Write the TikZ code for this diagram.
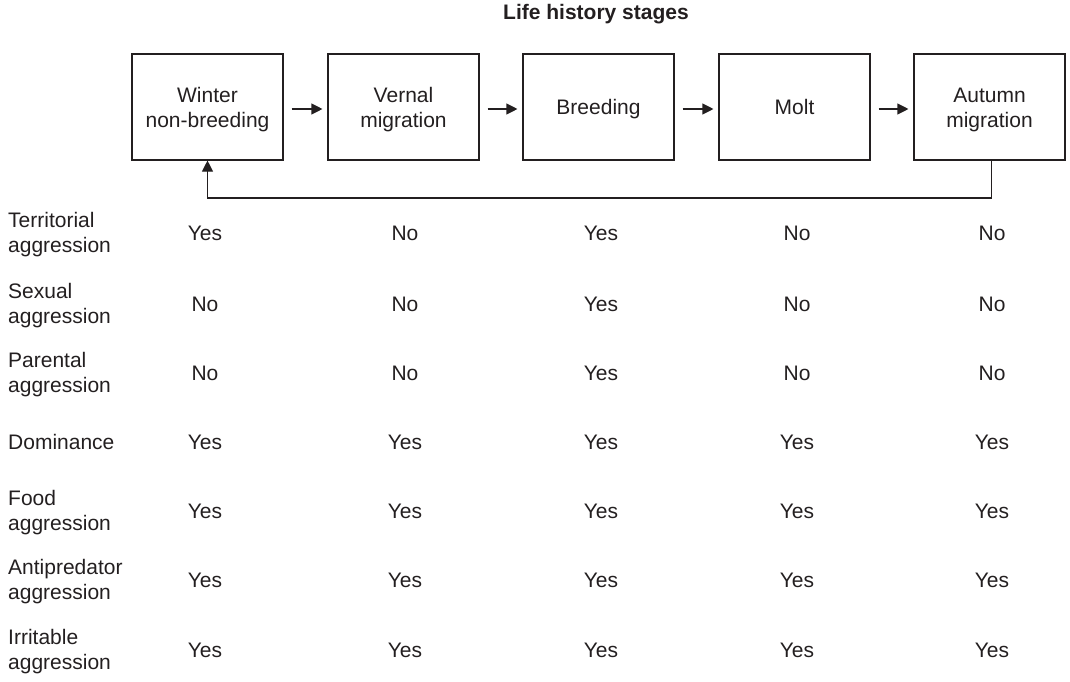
\documentclass[tikz,border=0pt]{standalone}
\usepackage{fontspec}
\setmainfont{Liberation Sans}
\usetikzlibrary{arrows.meta}
\definecolor{ink}{HTML}{231F20}
\begin{document}
\begin{tikzpicture}[x=1pt,y=-1pt,
  every node/.style={text=ink,font=\fontsize{21}{25}\selectfont},
  stagebox/.style={draw=ink,line width=1.1pt,minimum width=151pt,minimum height=106pt,inner sep=0pt},
  stagetext/.style={align=center,inner sep=0pt},
  oneline/.style={text height=15pt,text depth=5pt},
  flow/.style={draw=ink,line width=1.1pt,-{Triangle[length=11pt,width=11pt]}},
  rowlabel/.style={anchor=west,align=left,inner sep=0pt},
  cell/.style={inner sep=0pt}]
\useasboundingbox (0,0) rectangle (1070,682);

\node[font=\fontsize{21}{25}\selectfont\bfseries] (title) at (596,14) {Life history stages};

% life history stages: frames, then their captions set slightly low
\node[stagebox] (s1) at (207.5,107) {};
\node[stagebox] (s2) at (403.5,107) {};
\node[stagebox] (s3) at (598.5,107) {};
\node[stagebox] (s4) at (794.5,107) {};
\node[stagebox] (s5) at (989.5,107) {};
\node[stagetext] (t1) at ([yshift=-3pt]s1.center) {Winter\\non-breeding};
\node[stagetext] (t2) at ([yshift=-3pt]s2.center) {Vernal\\migration};
\node[stagetext,oneline] (t3) at ([yshift=-3pt]s3.center) {Breeding};
\node[stagetext,oneline] (t4) at ([yshift=-3pt]s4.center) {Molt};
\node[stagetext] (t5) at ([yshift=-3pt]s5.center) {Autumn\\migration};

\foreach \a/\b in {s1/s2,s2/s3,s3/s4,s4/s5}{
  \draw[flow] ([xshift=8pt,yshift=-2pt]\a.east) -- ([xshift=-5pt,yshift=-2pt]\b.west);
}
\coordinate (loopR) at ([xshift=2pt]s5.south |- 0,198);
\coordinate (loopL) at (s1.south |- 0,198);
\draw[flow] ([xshift=2pt]s5.south) -- (loopR) -- (loopL) -- (s1.south);

% aggression types
\foreach \y/\lab in {233/{Territorial\\aggression},304/{Sexual\\aggression},
  373/{Parental\\aggression},511/{Food\\aggression},
  580/{Antipredator\\aggression},650/{Irritable\\aggression}}{
  \node[rowlabel] at (8,\y+2) {\lab};
}
\node[rowlabel] at (8,442) {Dominance};

% presence of each type in each stage
\foreach \y/\va/\vb/\vc/\vd/\ve [count=\r] in {
  233/Yes/No/Yes/No/No,
  304/No/No/Yes/No/No,
  373/No/No/Yes/No/No,
  442/Yes/Yes/Yes/Yes/Yes,
  511/Yes/Yes/Yes/Yes/Yes,
  580/Yes/Yes/Yes/Yes/Yes,
  650/Yes/Yes/Yes/Yes/Yes}{
  \node[cell] (c\r-1) at (205,\y) {\va};
  \node[cell] (c\r-2) at (405,\y) {\vb};
  \node[cell] (c\r-3) at (601,\y) {\vc};
  \node[cell] (c\r-4) at (797,\y) {\vd};
  \node[cell] (c\r-5) at (992,\y) {\ve};
}
\end{tikzpicture}
\end{document}
